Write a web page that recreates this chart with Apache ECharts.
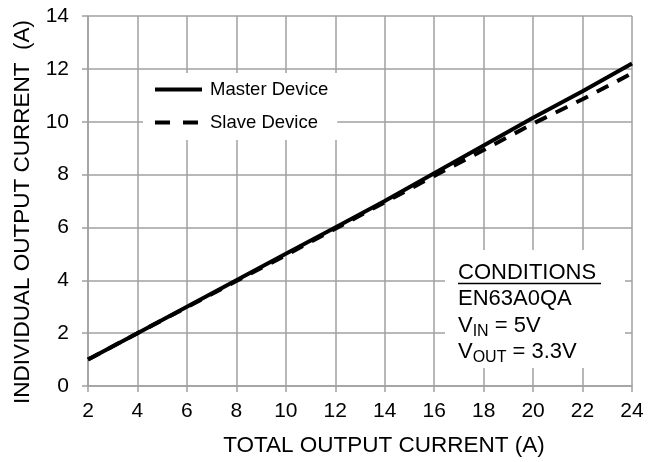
<!DOCTYPE html>
<html>
<head>
<meta charset="utf-8">
<script src="https://cdn.jsdelivr.net/npm/echarts@6/dist/echarts.min.js"></script>
<style>html,body{margin:0;padding:0;background:#fff;}#c{width:663px;height:462px;}</style>
</head>
<body>
<div id="c"></div>
<script>
const totalCurrent = [2, 4, 6, 8, 10, 12, 14, 16, 18, 20, 22, 24];
const masterDevice = [1.0, 2.0, 3.0, 4.0, 5.0, 6.0, 7.0, 8.05, 9.1, 10.15, 11.15, 12.2];
const slaveDevice  = [1.0, 2.0, 2.98, 3.97, 4.95, 5.95, 6.95, 7.95, 8.93, 9.93, 10.85, 11.83];
const seriesNames = ['Master Device', 'Slave Device'];
const conditionLines = ['CONDITIONS', 'EN63A0QA'];
const voltageRows = [['V', 'IN', ' = 5V'], ['V', 'OUT', ' = 3.3V']];

const FONT = 'Liberation Sans, Arial, sans-serif';
const gridColor = '#a0a0a0';
const chart = echarts.init(document.getElementById('c'));

const pairs = (xs, ys) => xs.map((x, i) => [x, ys[i]]);

const mctx = document.createElement('canvas').getContext('2d');
const measure = (t, size) => { mctx.font = size + 'px "Liberation Sans", Arial, sans-serif'; return mctx.measureText(t).width; };

const MAIN = 22, SUB = 16, BX = 458;
const condGraphics = [
  { type: 'rect', z: 1, shape: { x: 445, y: 250, width: 180, height: 118 }, style: { fill: '#fff' } },
  { type: 'text', z: 3, x: BX, y: 283.5, style: { text: conditionLines[0], font: MAIN + 'px ' + FONT, fill: '#000', verticalAlign: 'bottom' } },
  { type: 'line', z: 3, shape: { x1: BX, y1: 283.5, x2: 601, y2: 283.5 }, style: { stroke: '#000', lineWidth: 1.5 } },
  { type: 'text', z: 3, x: BX, y: 309.5, style: { text: conditionLines[1], font: MAIN + 'px ' + FONT, fill: '#000', verticalAlign: 'bottom' } }
];
voltageRows.forEach((row, i) => {
  const yb = 336.5 + i * 26;
  const w0 = measure(row[0], MAIN), w1 = measure(row[1], SUB);
  condGraphics.push(
    { type: 'text', z: 3, x: BX, y: yb, style: { text: row[0], font: MAIN + 'px ' + FONT, fill: '#000', verticalAlign: 'bottom' } },
    { type: 'text', z: 3, x: BX + w0, y: yb + 3.5, style: { text: row[1], font: SUB + 'px ' + FONT, fill: '#000', verticalAlign: 'bottom' } },
    { type: 'text', z: 3, x: BX + w0 + w1, y: yb, style: { text: row[2], font: MAIN + 'px ' + FONT, fill: '#000', verticalAlign: 'bottom' } }
  );
});

chart.setOption({
  animation: false,
  backgroundColor: '#fff',
  grid: { left: 88, right: 31, top: 16, bottom: 76 },
  xAxis: {
    type: 'value', min: 2, max: 24, interval: 2,
    name: 'TOTAL OUTPUT CURRENT (A)', nameLocation: 'middle', nameGap: 48,
    nameTextStyle: { fontFamily: FONT, fontSize: 22.5, color: '#000', padding: [0, 0, 0, 48] },
    axisLine: { lineStyle: { color: gridColor, width: 1.5 } },
    axisTick: { show: true, length: 6, lineStyle: { color: gridColor, width: 1.5 } },
    axisLabel: { fontFamily: FONT, fontSize: 21, color: '#000', margin: 15 },
    splitLine: { show: true, lineStyle: { color: gridColor, width: 1.5 } }
  },
  yAxis: {
    type: 'value', min: 0, max: 14, interval: 2,
    name: 'INDIVIDUAL OUTPUT CURRENT  (A)', nameLocation: 'middle', nameGap: 52,
    nameTextStyle: { fontFamily: FONT, fontSize: 22.5, color: '#000', padding: [0, 22, 0, 0] },
    axisLine: { show: true, lineStyle: { color: gridColor, width: 1.5 } },
    axisTick: { show: true, length: 6, lineStyle: { color: gridColor, width: 1.5 } },
    axisLabel: { fontFamily: FONT, fontSize: 21, color: '#000', margin: 19 },
    splitLine: { show: true, lineStyle: { color: gridColor, width: 1.5 } }
  },
  legend: {
    orient: 'vertical', left: 143, top: 73,
    backgroundColor: '#fff', padding: [7, 9, 8, 10],
    itemWidth: 47, itemHeight: 14, itemGap: 14,
    itemStyle: { opacity: 0 },
    textStyle: { fontFamily: FONT, fontSize: 18.5, color: '#000', padding: [0, 0, 0, 3] },
    data: [
      { name: seriesNames[0], lineStyle: { width: 4, color: '#000', type: 'solid' } },
      { name: seriesNames[1], lineStyle: { width: 4, color: '#000', type: [15, 13] } }
    ]
  },
  graphic: condGraphics,
  series: [
    { name: seriesNames[1], type: 'line', data: pairs(totalCurrent, slaveDevice), symbol: 'none', z: 2,
      lineStyle: { color: '#000', width: 4, type: [13, 10] }, itemStyle: { color: '#000' } },
    { name: seriesNames[0], type: 'line', data: pairs(totalCurrent, masterDevice), symbol: 'none', z: 3,
      lineStyle: { color: '#000', width: 4, type: 'solid' }, itemStyle: { color: '#000' } }
  ]
});
</script>
</body>
</html>
